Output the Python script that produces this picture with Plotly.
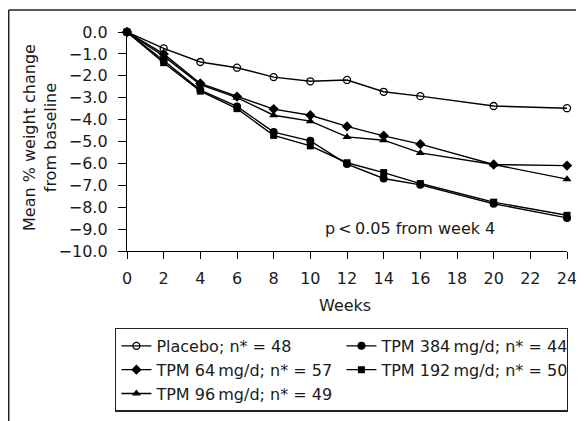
import plotly.graph_objects as go

weeks = [0, 2, 4, 6, 8, 10, 12, 14, 16, 20, 24]
placebo = [0.0, -0.75, -1.37, -1.63, -2.06, -2.25, -2.19, -2.73, -2.93, -3.38, -3.48]
tpm64 = [0.0, -1.0, -2.35, -2.95, -3.52, -3.8, -4.31, -4.74, -5.12, -6.05, -6.1]
tpm96 = [0.0, -1.1, -2.4, -3.0, -3.8, -4.07, -4.79, -4.94, -5.52, -6.05, -6.72]
tpm192 = [0.0, -1.4, -2.7, -3.5, -4.72, -5.2, -5.97, -6.42, -6.92, -7.77, -8.37]
tpm384 = [0.0, -1.3, -2.65, -3.4, -4.57, -4.97, -6.03, -6.69, -6.98, -7.84, -8.49]

y_ticks = [0, -1, -2, -3, -4, -5, -6, -7, -8, -9, -10]
y_tick_labels = ["0.0", "\u22121.0", "\u22122.0", "\u22123.0", "\u22124.0", "\u22125.0",
                 "\u22126.0", "\u22127.0", "\u22128.0", "\u22129.0", "\u221210.0"]
x_ticks = list(range(0, 25, 2))

series = [
    ("Placebo; n* = 48", placebo, dict(symbol="circle-open", size=7, color="black", line=dict(width=1.3, color="black")), 1),
    ("TPM 64\u2009mg/d; n* = 57", tpm64, dict(symbol="diamond", size=8, color="black"), 3),
    ("TPM 96\u2009mg/d; n* = 49", tpm96, dict(symbol="triangle-up", size=8, color="black"), 5),
    ("TPM 192\u2009mg/d; n* = 50", tpm192, dict(symbol="square", size=7, color="black"), 4),
    ("TPM 384\u2009mg/d; n* = 44", tpm384, dict(symbol="circle", size=8, color="black"), 2),
]

FONT = "DejaVu Sans"
FS = 16
fig = go.Figure()
for name, vals, marker, rank in series:
    fig.add_trace(go.Scatter(
        x=weeks, y=vals, name=name, mode="lines+markers",
        line=dict(color="black", width=1.4), marker=marker,
        legendrank=rank, cliponaxis=False,
    ))

fig.update_layout(
    width=576, height=413,
    margin=dict(l=119, r=17, t=24, b=170, autoexpand=False),
    paper_bgcolor="white", plot_bgcolor="white",
    font=dict(family=FONT, size=FS, color="#1a1a1a"),
    showlegend=True,
    legend=dict(
        orientation="h", x=-0.027, y=-0.35, xanchor="left", yanchor="top",
        entrywidthmode="pixels", entrywidth=180,
        bordercolor="#222", borderwidth=1.3, itemwidth=30,
        font=dict(family=FONT, size=FS, color="#1a1a1a"),
        tracegroupgap=0,
    ),
)
fig.update_xaxes(
    range=[0, 24], tickvals=x_ticks, ticktext=[str(v) for v in x_ticks],
    showgrid=False, zeroline=False, showline=True, linecolor="black", linewidth=1.4,
    ticks="outside", ticklen=7, tickwidth=1.3, tickcolor="black", ticklabelstandoff=6,
)
fig.update_yaxes(
    range=[-10, 0], tickvals=y_ticks, ticktext=y_tick_labels,
    showgrid=False, zeroline=False, showline=True, linecolor="black", linewidth=1.4,
    ticks="outside", ticklen=8, tickwidth=1.3, tickcolor="black", ticklabelstandoff=7,
)

fig.add_annotation(x=0.495, y=-0.247, xref="paper", yref="paper", xanchor="center", yanchor="middle",
                   text="Weeks", showarrow=False, font=dict(size=FS))
fig.add_annotation(x=-0.198, y=0.52, xref="paper", yref="paper", textangle=-90,
                   xanchor="center", yanchor="middle",
                   text="Mean % weight change<br>from baseline", showarrow=False,
                   font=dict(size=FS))
fig.add_annotation(x=0.643, y=0.105, xref="paper", yref="paper", xanchor="center", yanchor="middle",
                   text="p\u2009<\u20090.05 from week 4", showarrow=False, font=dict(size=FS))

# outer frame (top and left edges)
fig.add_shape(type="line", xref="paper", yref="paper", x0=-0.2688, x1=1.06, y0=1.1005, y1=1.1005,
              line=dict(color="#222", width=1.5))
fig.add_shape(type="line", xref="paper", yref="paper", x0=-0.2688, x1=-0.2688, y0=1.1005, y1=-0.8,
              line=dict(color="#222", width=1.5))

fig.write_html("out.html")
